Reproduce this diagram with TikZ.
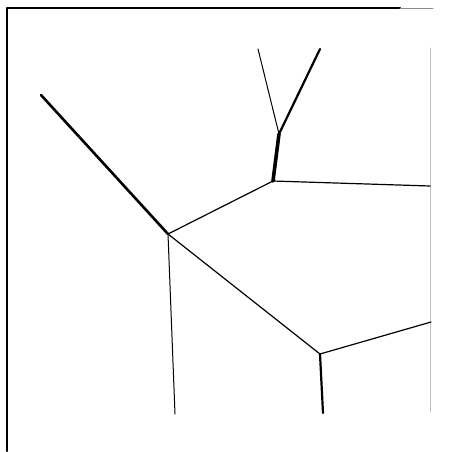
\documentclass[tikz,border=0pt]{standalone}
\usepackage{tikz}

\begin{document}
\begin{tikzpicture}[x=1pt, y=-1pt, line cap=round, line join=round,
    thin edge/.style={line width=1.2pt},
    mid edge/.style={line width=1.7pt},
    thick edge/.style={line width=2.6pt},
    stem edge/.style={line width=3.6pt}]

  %% ==== frame ====
  \draw[line width=2.2pt] (7,451) -- (7,8) -- (400,8);
  \draw[line width=1.0pt, black!45] (400,8) -- (433,8);
  \draw[line width=0.6pt, black!25] (430,48) -- (430,412);

  %% ==== junctions and free ends ====
  \coordinate (jl) at (168,234);
  \coordinate (jt) at (273,181);
  \coordinate (jy) at (279,134);
  \coordinate (jb) at (320,354);
  \coordinate (endNW) at (41,95);
  \coordinate (endYl) at (258,49);
  \coordinate (endYr) at (320,49);
  \coordinate (endE) at (430,186);
  \coordinate (endSE) at (431,322);
  \coordinate (endSl) at (175,414);
  \coordinate (endSr) at (323,413);

  %% ==== edges ====
  \draw[thick edge] (endNW) -- (jl);
  \draw[thin edge] (jl) -- (jt);
  \draw[thin edge] (jt) -- (endE);
  \draw[stem edge] (jt) -- (jy);
  \draw[thin edge, line width=1.0pt] (jy) -- (endYl);
  \draw[thick edge, line width=2.2pt] (jy) -- (endYr);
  \draw[thin edge, line width=1.0pt] (jl) -- (endSl);
  \draw[thin edge] (jl) -- (jb);
  \draw[thin edge] (jb) -- (endSE);
  \draw[mid edge, line width=2.2pt] (jb) -- (endSr);

  \pgfresetboundingbox
  \path[use as bounding box] (0,0) rectangle (458,451);
\end{tikzpicture}
\end{document}
